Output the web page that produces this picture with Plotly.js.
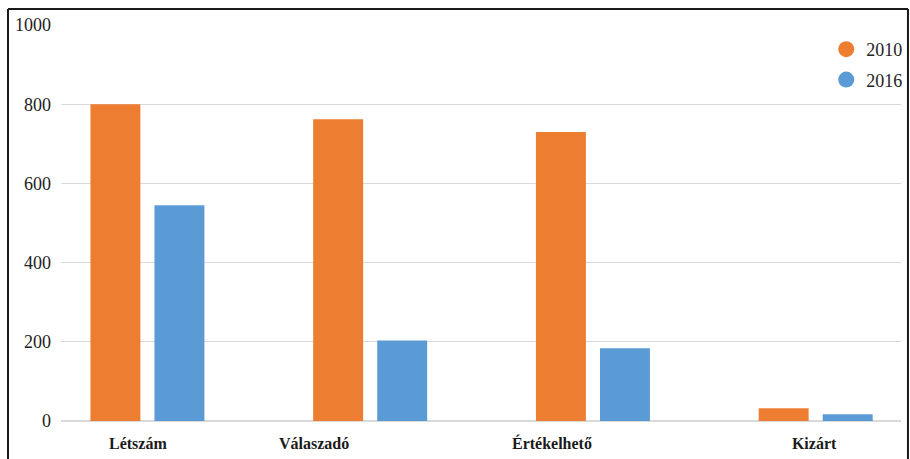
<!DOCTYPE html>
<html>
<head>
<meta charset="utf-8">
<script src="https://cdn.plot.ly/plotly-3.0.1.min.js"></script>
<style>html,body{margin:0;padding:0;background:#fff;}#chart{width:910px;height:459px;}</style>
</head>
<body>
<div id="chart"></div>
<script>
const categories = ['Létszám', 'Válaszadó', 'Értékelhető', 'Kizárt'];
const values2010 = [800, 762, 730, 32];
const values2016 = [545, 203, 184, 17];
const seriesNames = ['2010', '2016'];
const yTickValues = [0, 200, 400, 600, 800, 1000];

const colors = ['#ED7D31', '#5B9BD5'];
const serif = 'Liberation Serif, Times New Roman, serif';
const xPos = categories.map((c, i) => i);
// label placement in the source is slightly irregular
const labelShift = [-0.043, -0.252, -0.184, -0.007];
const tickPos = xPos.map((p, i) => p + labelShift[i]);

const series = [values2010, values2016];
const traces = [];
series.forEach((vals, k) => {
  traces.push({
    type: 'bar', x: xPos, y: vals, name: seriesNames[k],
    marker: {color: colors[k]}, showlegend: false, hoverinfo: 'y'
  });
});
series.forEach((vals, k) => {
  traces.push({
    type: 'scatter', mode: 'markers', x: [null], y: [null], name: seriesNames[k],
    legendgroup: 'g' + k,
    marker: {color: colors[k], size: 18, symbol: 'circle'}, showlegend: true
  });
});

const lineStyle = {color: '#1a1a1a', width: 2};
const layout = {
  width: 910, height: 459,
  margin: {l: 61, r: 9, t: 25, b: 38, autoexpand: false},
  paper_bgcolor: '#fff', plot_bgcolor: '#fff',
  barmode: 'group', bargap: 0.425, bargroupgap: 0.22,
  font: {family: serif, color: '#222'},
  xaxis: {
    range: [-0.388, 3.383], tickvals: tickPos, ticktext: categories,
    showgrid: false, zeroline: false, showline: false, ticks: '', ticklabelstandoff: 11,
    tickfont: {family: serif, size: 16, color: '#1a1a1a', weight: 'bold'}
  },
  yaxis: {
    range: [0, 1000], tickvals: yTickValues, showgrid: true,
    gridcolor: '#d9d9d9', gridwidth: 1, zeroline: true, zerolinecolor: '#d9d9d9', zerolinewidth: 1.5,
    showline: false, ticks: '', ticklabelstandoff: 9,
    tickfont: {family: serif, size: 18, color: '#222'}
  },
  legend: {
    x: 0.911, y: 0.985, xanchor: 'left', yanchor: 'top',
    font: {family: serif, size: 18, color: '#222'},
    bgcolor: 'rgba(0,0,0,0)', itemwidth: 30, tracegroupgap: 4
  },
  shapes: [
    {type: 'line', xref: 'paper', yref: 'paper', x0: -0.0631, x1: -0.0631, y0: -0.2, y1: 1.0404, line: lineStyle},
    {type: 'line', xref: 'paper', yref: 'paper', x0: -0.0631, x1: 1.0083, y0: 1.0404, y1: 1.0404, line: lineStyle},
    {type: 'line', xref: 'paper', yref: 'paper', x0: 1.0083, x1: 1.0083, y0: -0.2, y1: 1.0404, line: lineStyle}
  ]
};

Plotly.newPlot('chart', traces, layout, {displayModeBar: false, staticPlot: true});
</script>
</body>
</html>
